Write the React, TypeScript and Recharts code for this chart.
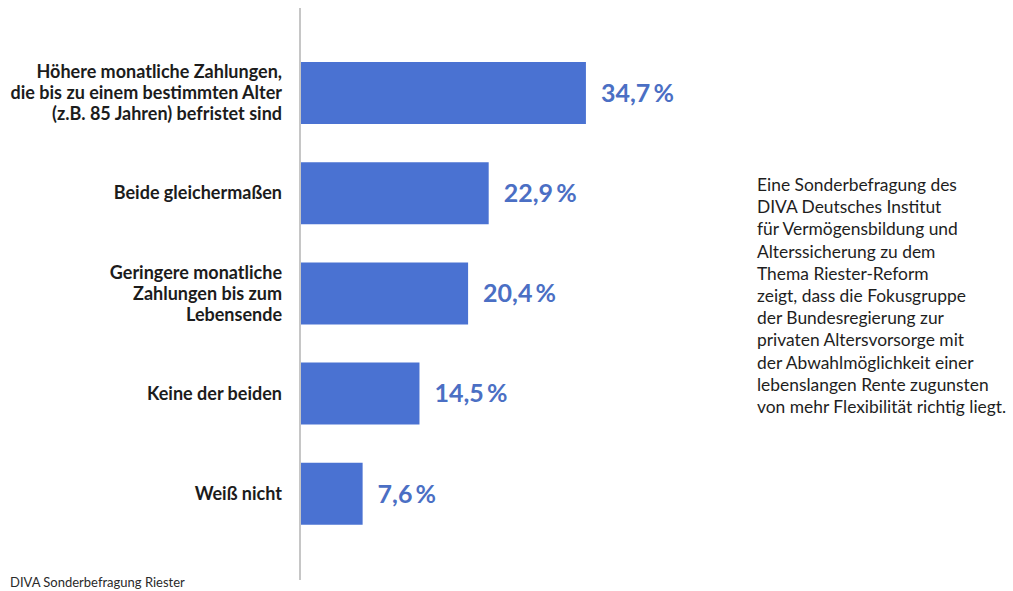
import React from 'react';
import { BarChart, Bar, XAxis, YAxis, LabelList } from 'recharts';

const categories = [
  'Höhere monatliche Zahlungen,\ndie bis zu einem bestimmten Alter\n(z.B. 85 Jahren) befristet sind',
  'Beide gleichermaßen',
  'Geringere monatliche\nZahlungen bis zum\nLebensende',
  'Keine der beiden',
  'Weiß nicht',
];
const shares = [34.7, 22.9, 20.4, 14.5, 7.6];

const noteLines = [
  'Eine Sonderbefragung des',
  'DIVA Deutsches Institut',
  'für Vermögensbildung und',
  'Alterssicherung zu dem',
  'Thema Riester-Reform',
  'zeigt, dass die Fokusgruppe',
  'der Bundesregierung zur',
  'privaten Altersvorsorge mit',
  'der Abwahlmöglichkeit einer',
  'lebenslangen Rente zugunsten',
  'von mehr Flexibilität richtig liegt.',
];
const source = 'DIVA Sonderbefragung Riester';

const data = categories.map((name, i) => ({ name, value: shares[i] }));

const FONT = 'Lato, "Open Sans", sans-serif';

const CategoryTick = (props: any) => {
  const { x, y, payload } = props;
  const lines = String(payload.value).split('\n');
  const lh = 21;
  return (
    <text x={x} y={y} textAnchor="end" fill="#1c1c1c" fontSize={18} fontWeight={700} fontFamily={FONT}>
      {lines.map((l, i) => (
        <tspan key={i} x={x} dy={i === 0 ? -((lines.length - 1) / 2) * lh + 6 : lh}>
          {l}
        </tspan>
      ))}
    </text>
  );
};

const fmt = (v: any) => Number(v).toFixed(1).replace('.', ',') + '\u2009%';

export default function App() {
  return (
    <div style={{ position: 'absolute', left: 0, top: 0, width: 1013, height: 591, background: '#fff', fontFamily: FONT }}>
      <BarChart
        width={1013}
        height={591}
        data={data}
        layout="vertical"
        margin={{ top: 8, right: 301, bottom: 11, left: 0 }}
        barSize={62}
      >
        <XAxis type="number" domain={[0, 50]} hide />
        <YAxis
          type="category"
          dataKey="name"
          width={300}
          padding={{ top: 35, bottom: 36 }}
          tickLine={false}
          tickSize={0}
          tickMargin={18}
          axisLine={{ stroke: '#c6c6c6', strokeWidth: 2 }}
          tick={<CategoryTick />}
          interval={0}
        />
        <Bar dataKey="value" fill="#4a72d2" isAnimationActive={false}>
          <LabelList
            dataKey="value"
            position="right"
            offset={15}
            formatter={fmt}
            fill="#4b6fc4"
            fontSize={25}
            fontWeight={700}
            fontFamily={FONT}
          />
        </Bar>
      </BarChart>
      <div
        style={{
          position: 'absolute',
          left: 757,
          top: 174,
          fontSize: 17.4,
          lineHeight: '22.2px',
          color: '#1e1e1e',
          whiteSpace: 'nowrap',
        }}
      >
        {noteLines.map((l, i) => (
          <div key={i}>{l}</div>
        ))}
      </div>
      <div style={{ position: 'absolute', left: 10, top: 574, fontSize: 13, color: '#2a2a2a' }}>{source}</div>
    </div>
  );
}
